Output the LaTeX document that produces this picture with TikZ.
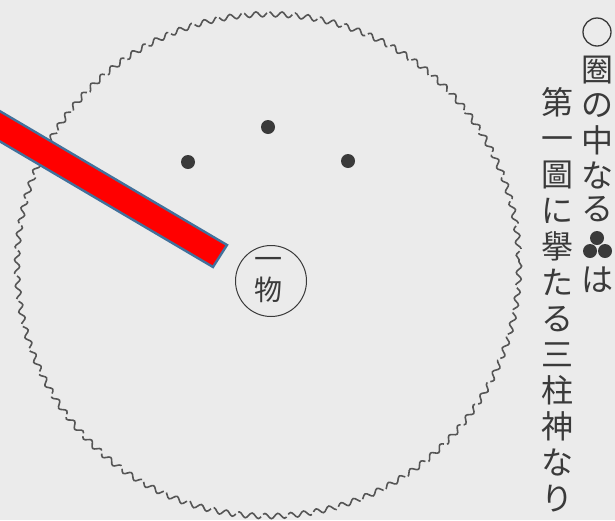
\documentclass[tikz,border=0pt]{standalone}
\usepackage{fontspec}
\newfontfamily\jp{Noto Sans CJK JP}
\usetikzlibrary{decorations.pathmorphing}
\definecolor{paper}{HTML}{EBEBEB}
\definecolor{ink}{HTML}{3A3A3A}
\definecolor{wave}{HTML}{555555}
\definecolor{barred}{HTML}{FF0000}
\definecolor{barline}{HTML}{41719C}
\begin{document}
\begin{tikzpicture}[x=1pt,y=-1pt,
  chr/.style={font=\jp\fontsize{32}{32}\selectfont, text=ink, inner sep=0pt, anchor=center,
    text height=28.2pt, text depth=3.8pt},
  small/.style={font=\jp\fontsize{28}{28}\selectfont, text=ink, inner sep=0pt, anchor=center,
    text height=24.6pt, text depth=3.4pt},
  wavy/.style={draw=wave, line width=1.6pt, dash pattern=on 30pt off 3pt, decorate,
    decoration={snake, segment length=13pt, amplitude=2.6pt}},
  dotmark/.style={circle, fill=ink, inner sep=0pt, minimum size=14pt},
  tridot/.style={circle, fill=ink, inner sep=0pt, minimum size=14pt},
  bar/.style={fill=barred, draw=barline, line width=2.4pt, line join=miter}]
\fill[paper] (0,0) rectangle (615,520);
\useasboundingbox (0,0) rectangle (615,520);
\clip (0,0) rectangle (615,520);

% wavy circle
\coordinate (C) at (268,262);
\draw[wavy] (C) circle[radius=251];

% three dots
\node[dotmark] (d1) at (268,127) {};
\node[dotmark] (d2) at (188,162) {};
\node[dotmark] (d3) at (348,161) {};

% small circle with text
\node[draw=ink, circle, minimum size=71pt, line width=1pt, inner sep=0pt] (obj) at (271,281) {};
\node[small] (ichi) at (268,259) {一};
\node[small] (mono) at (268,290) {物};

% red bar
\coordinate (b1) at (227,245);
\coordinate (b2) at (213,267);
\coordinate (b3) at (-45.6,114.6);
\coordinate (b4) at (-31.6,92.6);
\filldraw[bar] (b1) -- (b2) -- (b3) -- (b4) -- cycle;

% right column
\node[draw=ink, line width=1.3pt, circle, minimum size=28pt, inner sep=0pt] (r1) at (597,32) {};
\node[chr] (r2) at (597,69) {圈};
\node[chr] (r3) at (597,104) {の};
\node[chr] (r4) at (597,140) {中};
\node[chr] (r5) at (597,175) {な};
\node[chr] (r6) at (597,208) {る};
\node[tridot] (t1) at (597,238) {};
\node[tridot] (t2) at (590,251) {};
\node[tridot] (t3) at (605,251) {};
\node[chr] (r8) at (597,279) {は};

% left column
\foreach \c [count=\i] in {第,一,圖,に,擧,た,る,三,柱,神,な,り}{
  \node[chr] (l\i) at (557,{66+36*\i}) {\c};
}
\end{tikzpicture}
\end{document}
